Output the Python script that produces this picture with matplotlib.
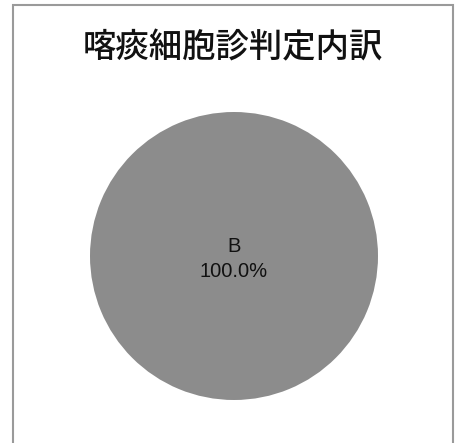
import matplotlib.pyplot as plt
from matplotlib.patches import Rectangle

title = '喀痰細胞診判定内訳'
labels = ['B']
values = [100.0]
colors = ['#8c8c8c']

plt.rcParams['font.family'] = ['Noto Sans CJK JP', 'DejaVu Sans']

fig = plt.figure(figsize=(4.57, 4.43), dpi=100)

# border round the chart area (bottom edge runs off the picture)
fig.patches.append(Rectangle((12.5 / 457, -0.05), 440.5 / 457, 1.05 - 5.5 / 443,
                             transform=fig.transFigure, fill=False,
                             edgecolor='#9a9a9a', linewidth=1.5))

ax = fig.add_axes([90 / 457, 43 / 443, 288 / 457, 288 / 443])


def fmt(pct):
    return labels[0] + '\n' + '%.1f%%' % pct


wedges, texts, autotexts = ax.pie(values, colors=colors, autopct=fmt,
                                  pctdistance=0, startangle=90,
                                  wedgeprops=dict(linewidth=0))
for t in autotexts:
    t.set_fontfamily('Liberation Sans')
    t.set_fontsize(14.5)
    t.set_linespacing(1.45)
    t.set_color('#111111')
    t.set_y(-0.02)
ax.set_xlim(-1, 1)
ax.set_ylim(-1, 1)
ax.set_aspect('equal')

fig.text(233 / 457, 1 - 48 / 443, title, ha='center', va='center', fontsize=24,
         fontweight='medium', color='#111111')

plt.savefig('out.png', dpi=100)
